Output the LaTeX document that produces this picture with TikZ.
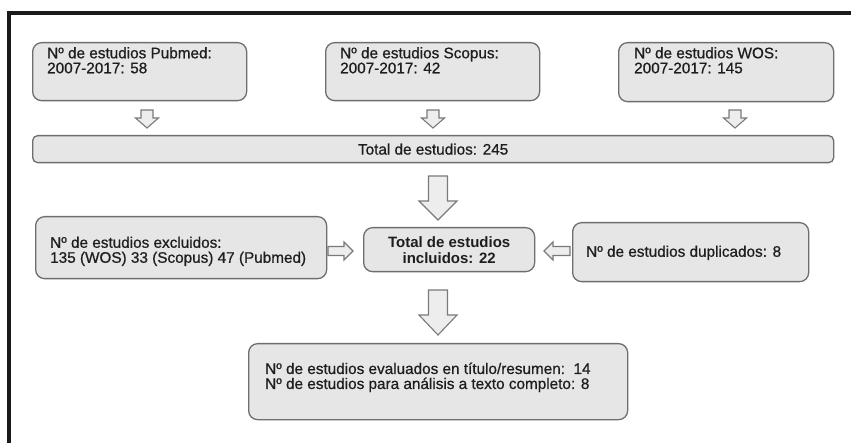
\documentclass[tikz,border=0pt]{standalone}
\usepackage{fontspec}
\setmainfont{Liberation Sans}
\newfontfamily\medfont{Liberation Sans}[FakeBold=0.7]
\usetikzlibrary{calc}
\definecolor{boxfill}{HTML}{E6E6E6}
\definecolor{boxline}{HTML}{6E6E6E}
\definecolor{arrline}{HTML}{7A7A7A}
\definecolor{arrfill}{HTML}{EDEDED}
\definecolor{txtcol}{HTML}{1E1E1E}
\definecolor{framecol}{HTML}{1A1A1A}
\newcommand{\arrdown}[5]{\draw[blk] (#1) ++(-#2,0) -- ++({2*#2},0) -- ++(0,{#4-#5}) -- ++({#3-#2},0) -- ++(-#3,#5) -- ++(-#3,-#5) -- ++({#3-#2},0) -- cycle;}
\newcommand{\arrright}[5]{\draw[blk] (#1) ++(0,-#2) -- ++({#4-#5},0) -- ++(0,{#2-#3}) -- ++(#5,#3) -- ++(-#5,#3) -- ++(0,{#2-#3}) -- ++({#5-#4},0) -- cycle;}
\newcommand{\arrleft}[5]{\draw[blk] (#1) ++(0,-#2) -- ++({#5-#4},0) -- ++(0,{#2-#3}) -- ++(-#5,#3) -- ++(#5,#3) -- ++(0,{#2-#3}) -- ++({#4-#5},0) -- cycle;}
\begin{document}
\begin{tikzpicture}[x=1pt,y=-1pt,
  box/.style={draw=boxline, fill=boxfill, line width=1.3pt, rounded corners=9pt, inner sep=0pt},
  txt/.style={font=\medfont\fontsize{15.3}{15}\selectfont, text=txtcol, align=left, inner sep=0pt},
  btxt/.style={font=\fontsize{15}{16}\selectfont\bfseries, text=txtcol, align=center},
  blk/.style={draw=arrline, fill=arrfill, line width=1.1pt, line join=miter}
]
\useasboundingbox[fill=white] (0,0) rectangle (851,443);
\draw[framecol, line width=4pt, line join=miter] (9,443) -- (9,13) -- (851,13);

% top boxes
\node[box, anchor=north west, minimum width=214, minimum height=58] (pub) at (32,42) {};
\node[txt, anchor=north west] (pubt) at ($(pub.north west)+(15,5)$) {Nº de estudios Pubmed:\\2007-2017: 58};
\node[box, anchor=north west, minimum width=214, minimum height=58] (sco) at (325,42) {};
\node[txt, anchor=north west] (scot) at ($(sco.north west)+(15,5)$) {Nº de estudios Scopus:\\2007-2017: 42};
\node[box, anchor=north west, minimum width=215, minimum height=59] (wos) at (618,42) {};
\node[txt, anchor=north west] (wost) at ($(wos.north west)+(16,5)$) {Nº de estudios WOS:\\2007-2017: 145};

% total
\node[box, rounded corners=5pt, anchor=north west, minimum width=801, minimum height=27, font=\medfont\fontsize{15.3}{15}\selectfont, text=txtcol] (tot) at (32,135) {Total de estudios: 245};

% centre
\node[box, anchor=north west, minimum width=171, minimum height=44, btxt] (inc) at (363,227) {Total de estudios\\incluidos: 22};

% excluded
\node[box, anchor=north west, minimum width=291, minimum height=62] (exc) at (35,216) {};
\node[txt, anchor=north west] (exct) at ($(exc.north west)+(15,20.5)$) {Nº de estudios excluidos:\\135 (WOS) 33 (Scopus) 47 (Pubmed)};

% duplicates
\node[box, anchor=north west, minimum width=236, minimum height=59] (dup) at (572,222) {};
\node[txt, anchor=north west] (dupt) at ($(dup.north west)+(14,23.5)$) {Nº de estudios duplicados: 8};

% bottom
\node[box, anchor=north west, minimum width=379, minimum height=76] (eva) at (248,343) {};
\node[txt, anchor=north west] (evat) at ($(eva.north west)+(17,19.5)$) {Nº de estudios evaluados en título/resumen:\ \ 14\\Nº de estudios para análisis a texto completo: 8};

% arrow anchor points
\coordinate (a1) at (147,110);
\coordinate (a2) at (433,110);
\coordinate (a3) at (735,110);
\coordinate (a4) at (438,176);
\coordinate (a5) at (438,290);
\coordinate (a6) at (328,251);
\coordinate (a7) at (570,251);

\arrdown{a1}{6}{11.5}{18}{10}
\arrdown{a2}{6}{11.5}{18}{10}
\arrdown{a3}{6}{11.5}{18}{10}
\arrdown{a4}{9.5}{19}{44}{19}
\arrdown{a5}{9.5}{19}{45}{20}
\arrright{a6}{4.5}{9}{25}{9}
\arrleft{a7}{4.5}{9}{26}{9}
\end{tikzpicture}
\end{document}
